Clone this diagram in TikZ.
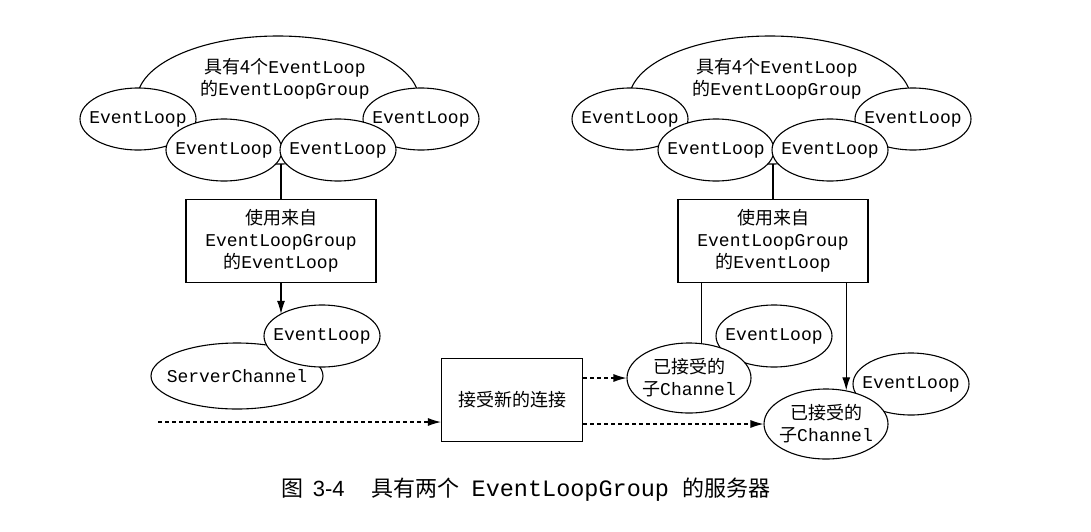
\documentclass[tikz,border=0pt]{standalone}
\usepackage{fontspec}
\setmainfont{Noto Sans CJK SC}
\setmonofont{Liberation Mono}
\newfontfamily\arialfont{Liberation Sans}
\usetikzlibrary{shapes.geometric,arrows.meta}

\newcommand{\el}{\texttt{EventLoop}}
\newcommand{\elg}{\texttt{EventLoopGroup}}

\begin{document}
\begin{tikzpicture}[
    x=1pt, y=-1pt,
    line width=1.1pt,
    font=\fontsize{18}{22}\selectfont,
    group/.style={ellipse, draw, minimum width=282pt, minimum height=128pt},
    loop/.style={ellipse, draw, fill=white, minimum width=116pt, minimum height=62pt, label=center:\el},
    chan/.style={ellipse, draw, fill=white, minimum width=124pt, minimum height=70pt,
        label={[align=center]center:已接受的\\子\texttt{Channel}}},
    srv/.style={ellipse, draw, fill=white, minimum width=172pt, minimum height=66pt},
    usebox/.style={rectangle, draw, fill=white, align=center, minimum width=190pt, minimum height=83pt, inner sep=0pt},
    arr/.style={-{Latex[length=13pt,width=8pt]}},
    dasharr/.style={arr, dash pattern=on 4pt off 3pt}
    ]
    \fill[white] (0,0) rectangle (1091,531);
    \useasboundingbox (0,0) rectangle (1091,531);

    % left group
    \node [group] (grp1) at (278,100) {};
    \node [align=center] (grptext1) at (285,79) {具有4个\el\\的\elg};
    \node [loop] (la1) at (138,119) {};
    \node [loop] (ld1) at (421,119) {};
    \node [loop] (lb1) at (224,150) {};
    \node [loop] (lc1) at (338,150) {};
    \node [usebox] (use1) at (281,241) {使用来自\\\elg\\的\el};
    \draw (use1.north |- lb1.-15) -- (use1.north);

    % server channel
    \node [srv, label=center:\texttt{ServerChannel}] (srv) at (237,376) {};
    \node [loop] (sel) at (322,336) {};
    \draw [arr] (use1.south) -- (use1.south |- sel.152);

    \node [rectangle, draw, minimum width=141pt, minimum height=83pt] (accept) at (512,400) {接受新的连接};
    \coordinate (in) at (158,422);
    \draw [dasharr] (in) -- (in -| accept.west);

    % right group
    \node [group] (grp2) at (770,100) {};
    \node [align=center] (grptext2) at (777,79) {具有4个\el\\的\elg};
    \node [loop] (la2) at (630,119) {};
    \node [loop] (ld2) at (913,119) {};
    \node [loop] (lb2) at (716,150) {};
    \node [loop] (lc2) at (830,150) {};
    \node [usebox] (use2) at (773,241) {使用来自\\\elg\\的\el};
    \draw (use2.north |- lb2.-15) -- (use2.north);

    % accepted channels
    \node [loop] (cel1) at (774,336) {};
    \node [chan] (ch1) at (689,378) {};
    \node [loop] (cel2) at (911,384) {};
    \node [chan] (ch2) at (826,424) {};
    \draw (ch1.70 |- use2.south) -- (ch1.70);
    \draw [arr] (ch2.59 |- use2.south) -- (ch2.59);
    \draw [dasharr] (accept.east |- ch1.west) -- (ch1.west);
    \draw [dasharr] (accept.east |- ch2.west) -- (ch2.west);

    % caption
    \node (caption) at (526,490) {\fontsize{22}{26}\selectfont 图\hspace{9pt}{\arialfont 3-4}\hspace{27pt}具有两个\hspace{12pt}{\fontsize{23.5}{26}\selectfont\ttfamily EventLoopGroup}\hspace{13pt}的服务器};
\end{tikzpicture}
\end{document}
